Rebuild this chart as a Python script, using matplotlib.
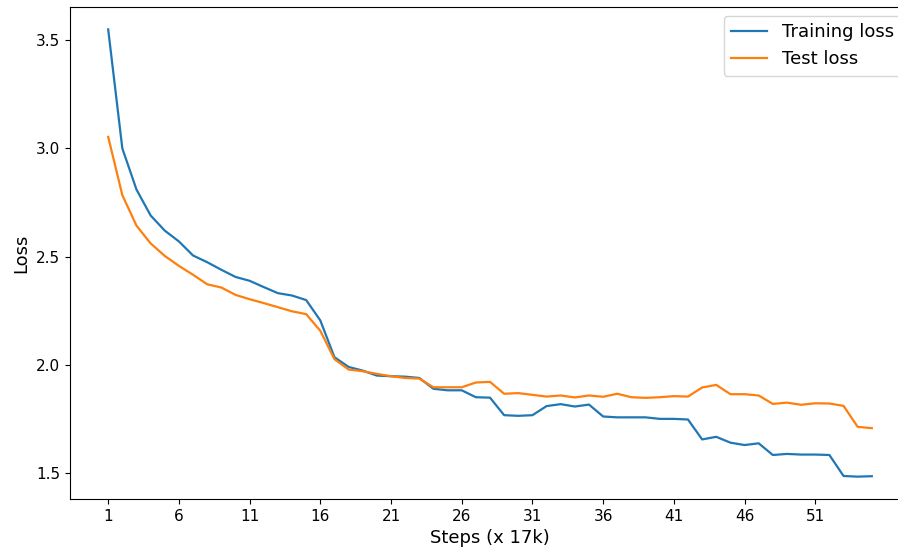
"""
Training vs test loss curve.
"""

import matplotlib
matplotlib.use("Agg")
import matplotlib.pyplot as plt

steps = list(range(1, 56))

training_loss = [
    3.55, 3.00, 2.81, 2.69, 2.62, 2.57, 2.505, 2.474, 2.439, 2.406,
    2.388, 2.359, 2.331, 2.320, 2.299, 2.205, 2.035, 1.990, 1.973, 1.950,
    1.947, 1.945, 1.939, 1.889, 1.882, 1.882, 1.850, 1.848, 1.767, 1.764,
    1.767, 1.809, 1.818, 1.807, 1.816, 1.761, 1.757, 1.757, 1.757, 1.750,
    1.750, 1.747, 1.655, 1.667, 1.640, 1.629, 1.637, 1.583, 1.588, 1.585,
    1.585, 1.583, 1.486, 1.483, 1.485,
]

test_loss = [
    3.053, 2.784, 2.643, 2.561, 2.503, 2.457, 2.416, 2.372, 2.357, 2.323,
    2.303, 2.285, 2.266, 2.247, 2.234, 2.157, 2.026, 1.978, 1.970, 1.958,
    1.947, 1.939, 1.936, 1.896, 1.896, 1.896, 1.918, 1.921, 1.866, 1.869,
    1.861, 1.853, 1.858, 1.849, 1.858, 1.852, 1.866, 1.850, 1.847, 1.850,
    1.855, 1.853, 1.895, 1.907, 1.864, 1.864, 1.858, 1.819, 1.825, 1.815,
    1.822, 1.821, 1.810, 1.713, 1.707,
]

xticks = list(range(1, 56, 5))

fig = plt.figure(figsize=(8.98, 5.53), dpi=100)
# axes runs past the right edge, like the cropped original
ax = fig.add_axes([70 / 898, 54 / 553, 840 / 898, 492 / 553])

ax.plot(steps, training_loss, label="Training loss", linewidth=1.6)
ax.plot(steps, test_loss, label="Test loss", linewidth=1.6)

ax.set_xticks(xticks)
ax.set_yticks([1.5, 2.0, 2.5, 3.0, 3.5])
ax.tick_params(labelsize=11)
ax.set_xlabel("Steps (x 17k)", fontsize=13)
ax.set_ylabel("Loss", fontsize=13)
ax.spines["right"].set_visible(False)
ax.legend(loc="upper right", fontsize=13)

fig.savefig("out.png", dpi=100)
